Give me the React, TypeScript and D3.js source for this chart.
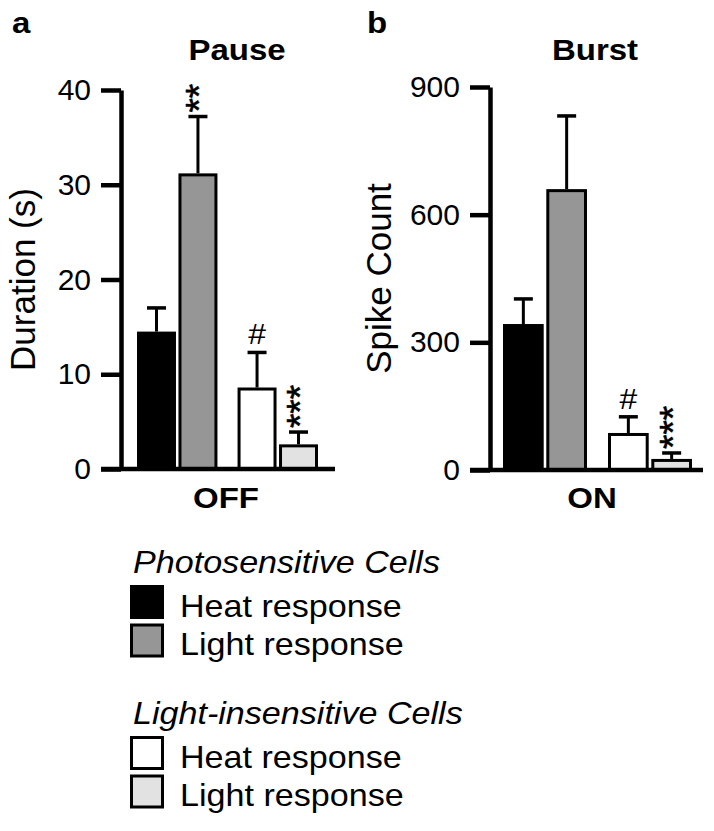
import React, { useEffect, useRef } from 'react';
import * as d3 from 'd3';

// groups: photosensitive heat / light, light-insensitive heat / light
const groupKeys = ['photoHeat', 'photoLight', 'insHeat', 'insLight'];
const groupFills = ['#000000', '#969696', '#ffffff', '#e2e2e2'];

const pauseMeans = [14.5, 31.2, 8.6, 2.6];
const pauseErrors = [2.5, 6.0, 3.7, 1.3];
const pauseMarks = ['', '**', '#', '***'];
const pauseTicks = [0, 10, 20, 30, 40];

const burstMeans = [343, 660, 87, 26];
const burstErrors = [59, 172, 38, 14];
const burstMarks = ['', '', '#', '***'];
const burstTicks = [0, 300, 600, 900];

const legendGroups = ['Photosensitive Cells', 'Light-insensitive Cells'];
const legendItems = ['Heat response', 'Light response'];

const FONT = 'Liberation Sans, Arial, Helvetica, sans-serif';
const WIDE = 1.1; // original lettering is a bit wider than Liberation Sans

export default function App() {
  const svgRef = useRef<SVGSVGElement | null>(null);

  useEffect(() => {
    if (!svgRef.current) return;
    const svg = d3.select(svgRef.current);
    svg.selectAll('*').remove();

    const panels = [
      {
        letter: 'a', title: 'Pause', yLabel: 'Duration (s)', xLabel: 'OFF',
        means: pauseMeans, errs: pauseErrors, marks: pauseMarks, ticks: pauseTicks,
        axisX: 121, top: 90, bottom: 469, max: 40, barRange: [137, 318], axisEnd: 335,
        letterX: 12, titleX: 237, yLabelX: 35, xLabelX: 226,
      },
      {
        letter: 'b', title: 'Burst', yLabel: 'Spike Count', xLabel: 'ON',
        means: burstMeans, errs: burstErrors, marks: burstMarks, ticks: burstTicks,
        axisX: 490, top: 87, bottom: 470, max: 900, barRange: [503, 692], axisEnd: 703,
        letterX: 367, titleX: 595, yLabelX: 391, xLabelX: 592,
      },
    ];

    panels.forEach(p => {
      const g = svg.append('g');
      const y = d3.scaleLinear().domain([0, p.max]).range([p.bottom, p.top]);

      // pairs of bars
      const outer = d3.scaleBand().domain(['photo', 'ins']).range(p.barRange as [number, number]).paddingInner(0.2);
      const inner = d3.scaleBand().domain(['heat', 'light']).range([0, outer.bandwidth()]).paddingInner(0.06);
      const barX = (i: number) => (outer(i < 2 ? 'photo' : 'ins') as number) + (inner(i % 2 === 0 ? 'heat' : 'light') as number);
      const bw = inner.bandwidth();

      // error bars (drawn first so bar tops sit over them)
      groupKeys.forEach((k, i) => {
        const cx = barX(i) + bw / 2;
        g.append('line')
          .attr('x1', cx).attr('x2', cx)
          .attr('y1', y(p.means[i])).attr('y2', y(p.means[i] + p.errs[i]))
          .attr('stroke', '#000').attr('stroke-width', 3);
        g.append('line')
          .attr('x1', cx - 9.5).attr('x2', cx + 9.5)
          .attr('y1', y(p.means[i] + p.errs[i])).attr('y2', y(p.means[i] + p.errs[i]))
          .attr('stroke', '#000').attr('stroke-width', 3.5);
      });

      g.selectAll('rect.bar')
        .data(groupKeys)
        .enter().append('rect')
        .attr('class', 'bar')
        .attr('x', (d, i) => barX(i) + 1.5)
        .attr('width', bw - 3)
        .attr('y', (d, i) => y(p.means[i]) + 1.5)
        .attr('height', (d, i) => p.bottom - y(p.means[i]) - 1.5)
        .attr('fill', (d, i) => groupFills[i])
        .attr('stroke', '#000')
        .attr('stroke-width', 3);

      // significance marks
      groupKeys.forEach((k, i) => {
        const m = p.marks[i];
        if (!m) return;
        const cx = barX(i) + bw / 2;
        const yTop = y(p.means[i] + p.errs[i]);
        if (m === '#') {
          g.append('text')
            .attr('transform', `translate(${cx},${yTop - 8}) scale(${WIDE},1)`)
            .attr('text-anchor', 'middle')
            .attr('font-family', FONT).attr('font-size', 29)
            .text(m);
        } else {
          g.append('text')
            .attr('transform', `translate(${cx + 14},${yTop - 4}) rotate(-90)`)
            .attr('font-family', FONT).attr('font-size', 37)
            .attr('stroke', '#000').attr('stroke-width', 0.6)
            .text(m);
        }
      });

      // axes
      const yAxis = g.append('g')
        .attr('transform', `translate(${p.axisX},0)`)
        .call(d3.axisLeft(y).tickValues(p.ticks).tickSize(20).tickSizeOuter(0).tickPadding(10));
      yAxis.select('.domain').attr('stroke-width', 4.5);
      yAxis.selectAll('.tick line').attr('stroke-width', 4.5);
      yAxis.selectAll('.tick text').attr('font-family', FONT).attr('font-size', 30).attr('fill', '#000');

      g.append('line')
        .attr('x1', p.axisX - 20).attr('x2', p.axisEnd)
        .attr('y1', p.bottom).attr('y2', p.bottom)
        .attr('stroke', '#000').attr('stroke-width', 4.5);

      g.append('text').attr('transform', `translate(${p.letterX},33) scale(${WIDE},1)`)
        .attr('font-family', FONT).attr('font-weight', 'bold').attr('font-size', 30)
        .text(p.letter);
      g.append('text').attr('transform', `translate(${p.titleX},60) scale(${WIDE},1)`)
        .attr('text-anchor', 'middle')
        .attr('font-family', FONT).attr('font-weight', 'bold').attr('font-size', 30)
        .text(p.title);
      g.append('text').attr('transform', `translate(${p.xLabelX},508) scale(${WIDE},1)`)
        .attr('text-anchor', 'middle')
        .attr('font-family', FONT).attr('font-weight', 'bold').attr('font-size', 30)
        .text(p.xLabel);
      g.append('text')
        .attr('transform', `translate(${p.yLabelX},${(p.top + p.bottom) / 2}) rotate(-90)`)
        .attr('text-anchor', 'middle')
        .attr('font-family', FONT).attr('font-size', 35)
        .text(p.yLabel);
    });

    // legend
    const lg = svg.append('g');
    const headerY = [573, 724];
    legendGroups.forEach((name, gi) => {
      lg.append('text').attr('transform', `translate(133,${headerY[gi]}) scale(${WIDE},1)`)
        .attr('font-family', FONT).attr('font-style', 'italic').attr('font-size', 31)
        .text(name);
      legendItems.forEach((item, ii) => {
        const idx = gi * 2 + ii;
        const top = headerY[gi] + 13.5 + ii * 38.5;
        lg.append('rect')
          .attr('x', 131.5).attr('y', top)
          .attr('width', 31).attr('height', 31)
          .attr('fill', groupFills[idx]).attr('stroke', '#000').attr('stroke-width', 3);
        lg.append('text').attr('transform', `translate(180,${top + 30}) scale(${WIDE},1)`)
          .attr('font-family', FONT).attr('font-size', 31)
          .text(item);
      });
    });
  }, []);

  return (
    <svg ref={svgRef} width={714} height={831}
      style={{ position: 'absolute', left: 0, top: 0, background: '#fff' }} />
  );
}
